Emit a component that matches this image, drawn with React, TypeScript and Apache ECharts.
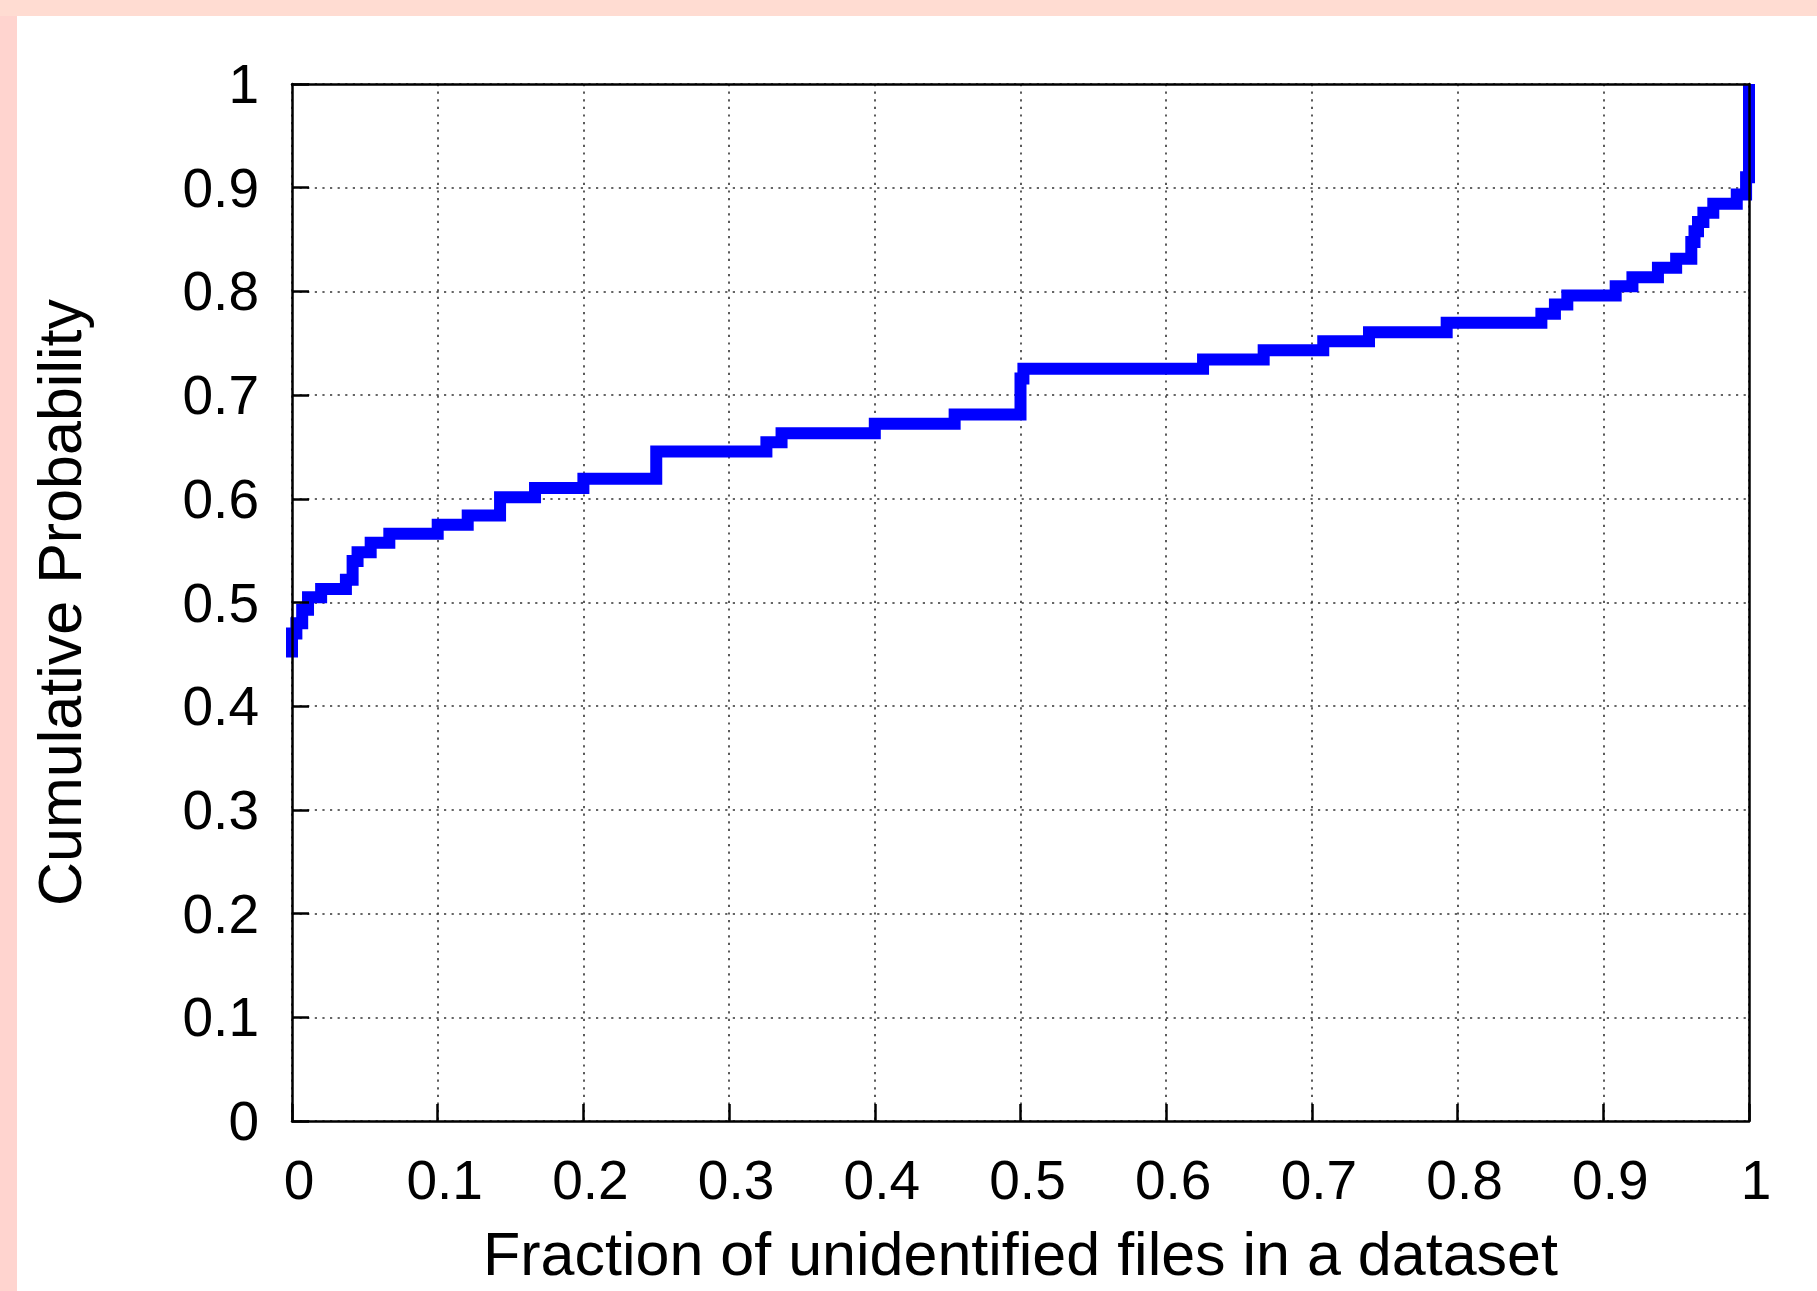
import React, { useEffect, useRef } from "react";
import * as echarts from "echarts";

// Step CDF corner points: horizontal at y from x until the next x
const xValues = [
  0, 0, 0.003, 0.007, 0.011, 0.02, 0.037, 0.0416, 0.045, 0.054, 0.0668, 0.1,
  0.1206, 0.1428, 0.1668, 0.2, 0.25, 0.3256, 0.336, 0.4, 0.4548, 0.5, 0.502,
  0.6253, 0.6669, 0.7078, 0.7392, 0.7925, 0.8575, 0.8668, 0.8753, 0.9085, 0.92,
  0.9375, 0.95, 0.9604, 0.9626, 0.965, 0.9687, 0.9755, 0.9916, 0.998, 1.0,
];
const yValues = [
  0.447, 0.47, 0.48, 0.493, 0.505, 0.513, 0.522, 0.54, 0.5485, 0.5576, 0.5662,
  0.575, 0.584, 0.6016, 0.6104, 0.6193, 0.6456, 0.6546, 0.6633, 0.6723, 0.6813,
  0.716, 0.7253, 0.7343, 0.7432, 0.7519, 0.7607, 0.7697, 0.7784, 0.7874, 0.796,
  0.8049, 0.8137, 0.8228, 0.8314, 0.8476, 0.858, 0.867, 0.8758, 0.8846, 0.8934,
  0.91, 1.0,
];

const xTitle = "Fraction of unidentified files in a dataset";
const yTitle = "Cumulative Probability";

const FONT = "'Liberation Sans', Arial, Helvetica, sans-serif";

export default function App() {
  const ref = useRef<HTMLDivElement>(null);
  useEffect(() => {
    if (!ref.current) return;
    const chart = echarts.init(ref.current, undefined, { renderer: "svg" });
    const data = xValues.map((x, i) => [x, yValues[i]]);
    const gridLine = {
      show: true,
      lineStyle: { color: "#333", width: 1.6, type: [2.2, 5.4] as any },
    };
    const blackLine = { show: true, onZero: false, lineStyle: { color: "#000", width: 2.5 } };
    const base = { type: "value" as const, min: 0, max: 1, interval: 0.1 };
    chart.setOption({
      animation: false,
      backgroundColor: "#ffffff",
      graphic: [
        { type: "rect", left: 0, top: 0, shape: { width: 1817, height: 16 }, style: { fill: "#FFDCD2" }, z: 100 },
        { type: "rect", left: 0, top: 16, shape: { width: 17, height: 1275 }, style: { fill: "#FFD4CF" }, z: 100 },
      ],
      grid: {
        left: 292,
        top: 84,
        right: 68,
        bottom: 170,
        containLabel: false,
        outerBoundsMode: "none",
      },
      xAxis: [
        {
          ...base,
          position: "bottom",
          axisLine: { show: false, onZero: false },
          axisTick: { show: false },
          splitLine: gridLine,
          axisLabel: {
            color: "#000",
            fontFamily: FONT,
            fontSize: 55,
            margin: 31,
            padding: [0, 0, 0, 14],
          },
          name: xTitle,
          nameLocation: "middle",
          nameGap: 105,
          nameTextStyle: { color: "#000", fontFamily: FONT, fontSize: 61, lineHeight: 56 },
        },
        {
          ...base,
          position: "bottom",
          z: 10,
          axisLine: blackLine,
          axisTick: { show: true, inside: true, length: 17, lineStyle: { color: "#000", width: 2.5 } },
          axisLabel: { show: false },
          splitLine: { show: false },
        },
        {
          ...base,
          position: "top",
          z: 10,
          axisLine: blackLine,
          axisTick: { show: false },
          axisLabel: { show: false },
          splitLine: { show: false },
        },
      ],
      yAxis: [
        {
          ...base,
          position: "left",
          axisLine: { show: false, onZero: false },
          axisTick: { show: false },
          splitLine: gridLine,
          axisLabel: { color: "#000", fontFamily: FONT, fontSize: 55, margin: 33 },
          name: yTitle,
          nameLocation: "middle",
          nameGap: 202,
          nameTextStyle: { color: "#000", fontFamily: FONT, fontSize: 61 },
        },
        {
          ...base,
          position: "left",
          z: 10,
          axisLine: blackLine,
          axisTick: { show: true, inside: true, length: 17, lineStyle: { color: "#000", width: 2.5 } },
          axisLabel: { show: false },
          splitLine: { show: false },
        },
        {
          ...base,
          position: "right",
          z: 10,
          axisLine: blackLine,
          axisTick: { show: false },
          axisLabel: { show: false },
          splitLine: { show: false },
        },
      ],
      series: [
        {
          type: "line",
          xAxisIndex: 0,
          yAxisIndex: 0,
          data,
          step: "end",
          showSymbol: false,
          symbol: "none",
          clip: false,
          z: 5,
          lineStyle: { color: "#0000FF", width: 12, join: "miter", cap: "butt" },
        },
      ],
    });
    return () => chart.dispose();
  }, []);
  return (
    <div
      ref={ref}
      style={{ position: "fixed", left: 0, top: 0, width: 1817, height: 1291 }}
    />
  );
}
